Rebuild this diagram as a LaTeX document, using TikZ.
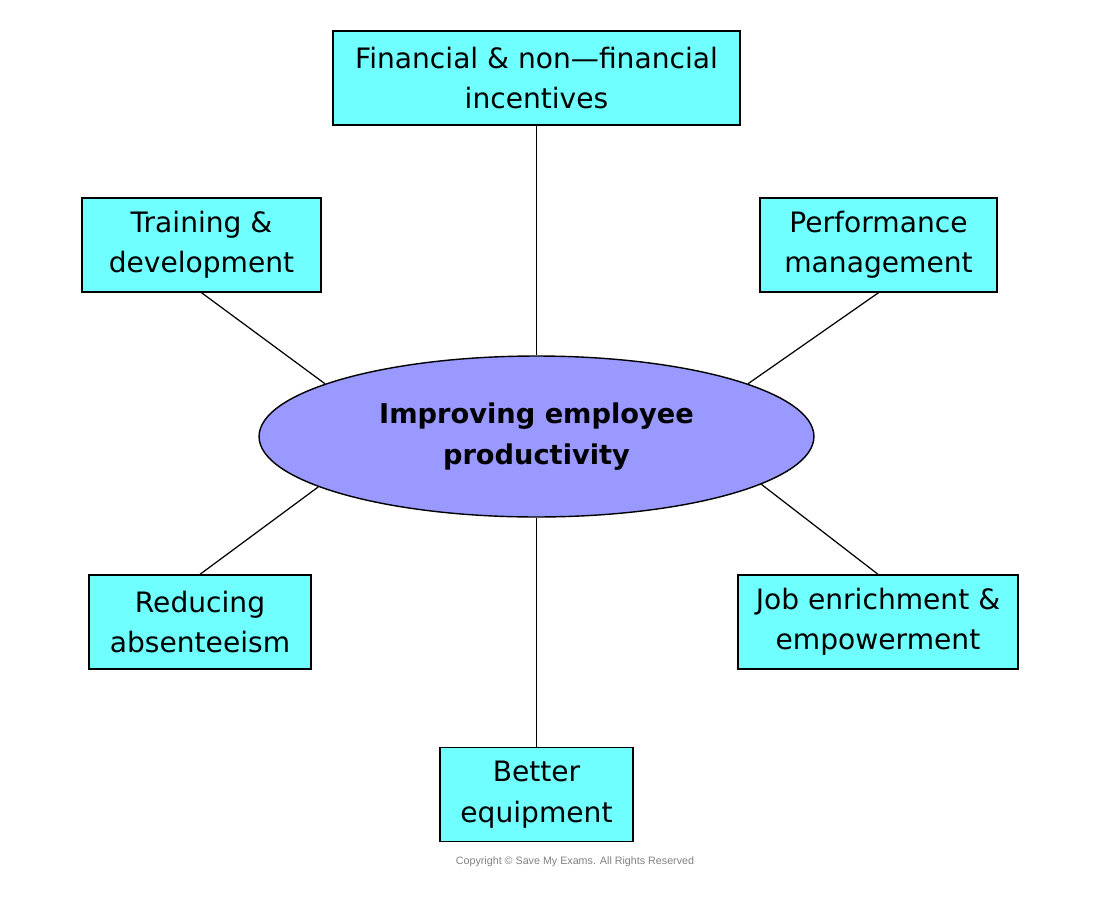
\documentclass[tikz,border=0pt]{standalone}
\usepackage{fontspec}
\setmainfont{DejaVu Sans}
\newfontfamily\copyfont{Liberation Sans}
\usepackage{tikz}
\usetikzlibrary{shapes.geometric}
\definecolor{boxCyan}{RGB}{112,255,255}
\definecolor{ellipseBlue}{RGB}{153,153,255}

\begin{document}
\begin{tikzpicture}
[x=0.02cm,y=-0.02cm,
  lineDecorate/.style={-,line width=0.7pt},%
  boxDecorate/.style={shape=rectangle,draw,line width=0.8pt,fill=boxCyan,
    align=center,inner sep=0pt,minimum height=1.88cm,
    font=\fontsize{16}{23}\selectfont},%
  ellipseDecorate/.style={shape=ellipse,draw,line width=0.8pt,fill=ellipseBlue,
    align=center,inner sep=0pt,minimum width=11.1cm,minimum height=3.22cm,
    font=\bfseries\fontsize{15.5}{23}\selectfont}]
\useasboundingbox (0,0) rectangle (1100,900);
%% centre ellipse
\node (ctr) at (536.5,436.5) [ellipseDecorate] {Improving employee\\productivity};
%% boxes round it
\foreach \nodename/\x/\y/\w/\txt in {
  fin/536.5/78/8.14/{Financial \& non—financial\\incentives},
  train/201.5/245/4.78/{Training \&\\development},
  perf/878.5/245/4.74/{Performance\\management},
  absent/200/622/4.44/{Reducing\\absenteeism},
  job/878/622/5.6/{Job enrichment \&\\empowerment},
  equip/536.5/794.5/3.86/{Better\\equipment}}
{
  \node (\nodename) at (\x,\y) [boxDecorate,minimum width=\w cm] {\txt};
}
%% lines to the ellipse
\path
\foreach \startnode/\endangle in {
  fin.south/90, train.south/166, perf.south/14,
  absent.north/193, job.north/348, equip.north/270}
{
  (\startnode) edge[lineDecorate] (ctr.\endangle)
};
%% copyright line
\node (copy) at (575,862) [font=\copyfont\fontsize{6.1}{8}\selectfont,text=gray]
  {Copyright © Save My Exams. All Rights Reserved};
\end{tikzpicture}
\end{document}
